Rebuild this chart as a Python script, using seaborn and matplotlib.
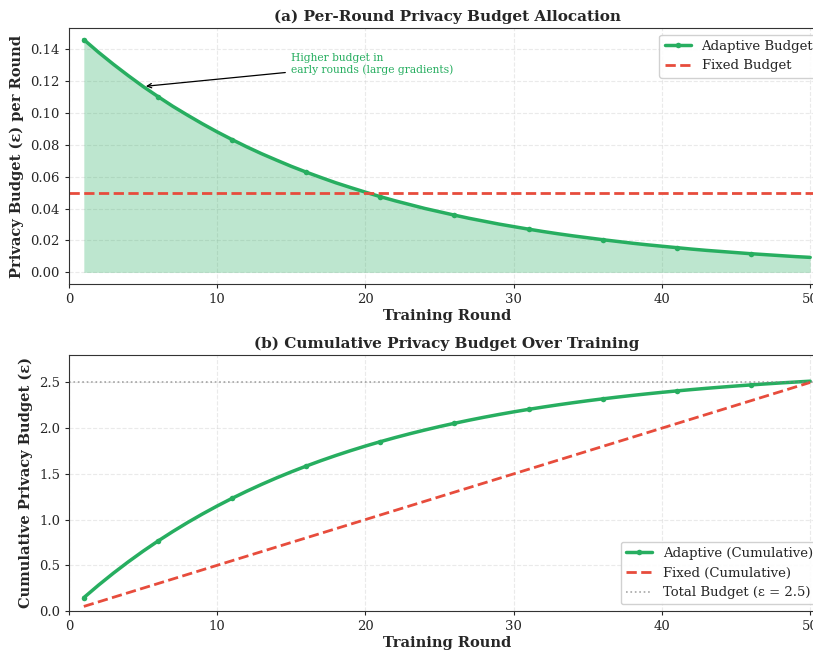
import numpy as np
import matplotlib
matplotlib.use("Agg")
import matplotlib.pyplot as plt
import seaborn as sns

# per-round budget, rounds 1..50
rounds = list(range(1, 51))
adaptive_eps = [0.1460, 0.1380, 0.1305, 0.1234, 0.1166, 0.1103, 0.1042, 0.0986, 0.0932, 0.0881,
                0.0833, 0.0787, 0.0744, 0.0704, 0.0665, 0.0629, 0.0595, 0.0562, 0.0532, 0.0503,
                0.0475, 0.0449, 0.0425, 0.0401, 0.0380, 0.0359, 0.0339, 0.0321, 0.0303, 0.0287,
                0.0271, 0.0256, 0.0242, 0.0229, 0.0217, 0.0205, 0.0194, 0.0183, 0.0173, 0.0164,
                0.0155, 0.0146, 0.0138, 0.0131, 0.0124, 0.0117, 0.0111, 0.0105, 0.0099, 0.0094]
fixed_eps = 0.05
total_budget = 2.5

adaptive_cum = np.cumsum(adaptive_eps)
fixed_cum = np.cumsum([fixed_eps] * len(rounds))

green = '#27ae60'
red = '#e74c3c'

sns.set_style("whitegrid", {'grid.linestyle': '--', 'axes.edgecolor': '#333333'})
plt.rcParams['font.family'] = ['DejaVu Serif']

fig = plt.figure(figsize=(8.13, 6.54), dpi=100)
W, H = 813, 654
ax1 = fig.add_axes([69 / W, 1 - 284 / H, (825 - 69) / W, (284 - 28) / H])
ax2 = fig.add_axes([69 / W, 1 - 611 / H, (825 - 69) / W, (611 - 355) / H])

# (a) per-round
sns.lineplot(x=rounds, y=adaptive_eps, ax=ax1, color=green, linewidth=2.5, marker='o',
             markersize=4, markeredgewidth=0, markevery=5, label='Adaptive Budget')
ax1.axhline(fixed_eps, color=red, linestyle='--', linewidth=2, label='Fixed Budget')
ax1.fill_between(rounds, adaptive_eps, 0, color=green, alpha=0.3, linewidth=0)
ax1.annotate('Higher budget in\nearly rounds (large gradients)', xy=(5, 0.1166), xytext=(15, 0.125),
             fontsize=7.7, color=green, arrowprops=dict(arrowstyle='->', color='black', lw=0.9))
ax1.set_xlim(0, 51)
ax1.set_ylim(-0.0073, 0.1533)
ax1.set_title('(a) Per-Round Privacy Budget Allocation', fontsize=11, fontweight='bold', pad=5)
ax1.set_xlabel('Training Round', fontsize=10.5, fontweight='bold', labelpad=2)
ax1.set_ylabel('Privacy Budget (ε) per Round', fontsize=10.5, fontweight='bold', labelpad=5)
ax1.legend(loc='upper right', fontsize=9.5, framealpha=0.9)

# (b) cumulative
sns.lineplot(x=rounds, y=adaptive_cum, ax=ax2, color=green, linewidth=2.5, marker='o',
             markersize=4, markeredgewidth=0, markevery=5, label='Adaptive (Cumulative)')
sns.lineplot(x=rounds, y=fixed_cum, ax=ax2, color=red, linewidth=2, linestyle='--',
             label='Fixed (Cumulative)')
ax2.axhline(total_budget, color='gray', linestyle=':', linewidth=1.2, alpha=0.7,
            label='Total Budget (ε = 2.5)')
ax2.set_xlim(0, 51)
ax2.set_ylim(0, 2.8)
ax2.set_title('(b) Cumulative Privacy Budget Over Training', fontsize=11, fontweight='bold', pad=5)
ax2.set_xlabel('Training Round', fontsize=10.5, fontweight='bold', labelpad=2)
ax2.set_ylabel('Cumulative Privacy Budget (ε)', fontsize=10.5, fontweight='bold')
ax2.legend(loc='lower right', fontsize=9.5, framealpha=0.9)

for ax in (ax1, ax2):
    ax.grid(True, alpha=0.4, linestyle='--')
    ax.tick_params(labelsize=9.5, length=3, bottom=True, left=True)
    ax.set_xticks([0, 10, 20, 30, 40, 50])

fig.savefig('out.png', dpi=100)
